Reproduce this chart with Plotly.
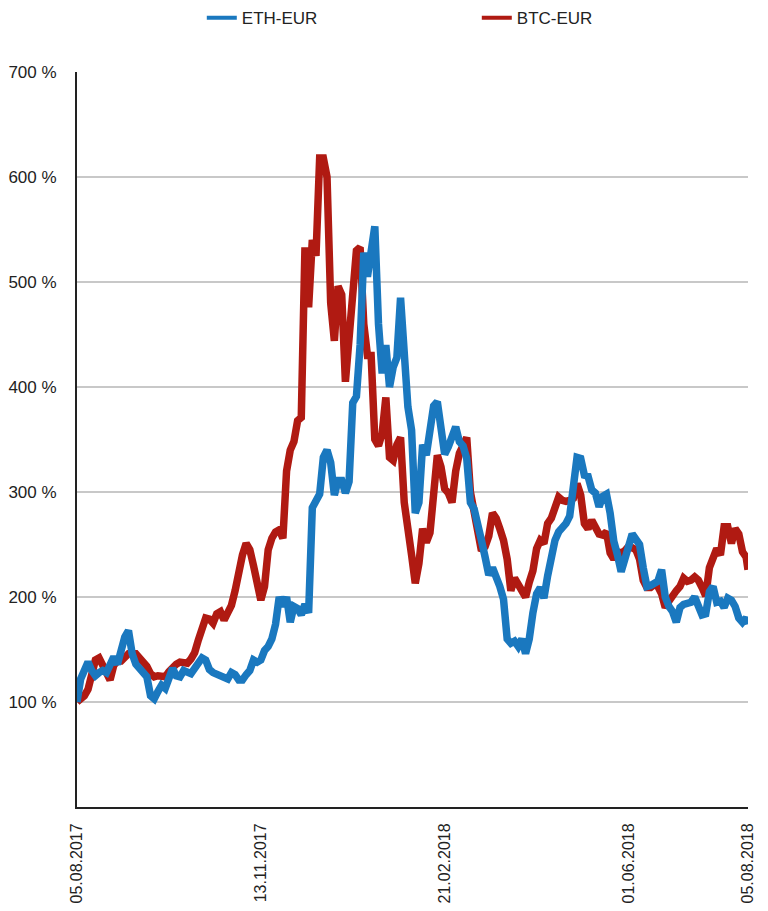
import pandas as pd
import plotly.graph_objects as go

# Daily series sampled every 2 days, 05.08.2017 -> 05.08.2018, indexed to 100 %
dates = list(pd.date_range("2017-08-05", "2018-08-04", freq="2D")) + [pd.Timestamp("2018-08-05")]

btc_eur = [
    100, 102, 106, 112, 126, 140, 142, 134, 127, 121, 135, 139, 139, 144, 146, 146, 146, 142, 138, 134,
    127, 124, 125, 124, 124, 129, 134, 136, 138, 137, 137, 141, 147, 159, 172, 180, 179, 175, 184, 186,
    178, 184, 192, 206, 225, 240, 251, 245, 230, 208, 197, 210, 245, 256, 262, 264, 256, 320, 340, 348,
    368, 371, 533, 476, 540, 525, 618, 618, 600, 480, 444, 496, 488, 405, 445, 472, 530, 533, 460, 430,
    430, 350, 344, 356, 390, 333, 330, 345, 352, 290, 270, 240, 213, 232, 265, 252, 261, 310, 335, 324,
    303, 299, 290, 320, 337, 344, 352, 300, 278, 255, 244, 248, 258, 280, 275, 265, 254, 236, 206, 218,
    212, 203, 200, 214, 225, 246, 254, 251, 270, 275, 285, 295, 292, 291, 292, 294, 308, 297, 270, 265,
    273, 268, 260, 259, 262, 242, 236, 243, 242, 244, 248, 247, 245, 236, 216, 209, 209, 212, 210, 203,
    190, 196, 203, 206, 210, 218, 215, 216, 219, 216, 209, 201, 228, 236, 246, 240, 267, 267, 251, 265,
    260, 243, 238, 226,
]

eth_eur = [
    100, 122, 130, 138, 130, 125, 128, 130, 128, 136, 143, 136, 150, 162, 168, 146, 136, 132, 130, 124,
    106, 103, 110, 116, 113, 122, 132, 125, 124, 130, 128, 127, 132, 136, 142, 140, 131, 128, 126, 124,
    122, 122, 128, 126, 121, 121, 126, 130, 140, 138, 140, 149, 153, 160, 174, 200, 191, 200, 176, 191,
    189, 183, 193, 185, 285, 290, 298, 333, 340, 328, 297, 311, 311, 299, 310, 385, 391, 440, 528, 505,
    530, 553, 460, 413, 440, 400, 419, 428, 485, 438, 381, 359, 280, 290, 345, 335, 365, 382, 386, 355,
    336, 343, 352, 362, 348, 344, 332, 290, 284, 272, 254, 238, 221, 228, 220, 210, 198, 160, 156, 158,
    153, 160, 146, 160, 185, 203, 209, 199, 220, 240, 254, 262, 266, 270, 277, 310, 333, 332, 316, 315,
    302, 299, 286, 296, 298, 280, 253, 240, 224, 236, 252, 260, 255, 250, 228, 210, 211, 213, 215, 226,
    200, 191, 186, 176, 190, 193, 194, 195, 200, 190, 183, 184, 205, 210, 195, 196, 190, 199, 197, 191,
    180, 176, 180, 174,
]

tick_dates = ["2017-08-05", "2017-11-13", "2018-02-21", "2018-06-01", "2018-08-05"]
tick_labels = ["05.08.2017", "13.11.2017", "21.02.2018", "01.06.2018", "05.08.2018"]
y_ticks = [100, 200, 300, 400, 500, 600, 700]

ETH_COLOR = "#1a78bf"
BTC_COLOR = "#b01a12"

fig = go.Figure()
# BTC first so that ETH is drawn on top
fig.add_trace(go.Scatter(x=dates, y=btc_eur, name="BTC-EUR", mode="lines", showlegend=False,
                         line=dict(color=BTC_COLOR, width=7.5)))
fig.add_trace(go.Scatter(x=dates, y=eth_eur, name="ETH-EUR", mode="lines", showlegend=False,
                         line=dict(color=ETH_COLOR, width=7.5)))
# legend-only entries with a thin key line
fig.add_trace(go.Scatter(x=[None], y=[None], name="ETH-EUR", mode="lines",
                         line=dict(color=ETH_COLOR, width=4)))
fig.add_trace(go.Scatter(x=[None], y=[None], name="BTC-EUR", mode="lines",
                         line=dict(color=BTC_COLOR, width=4)))

# page body has an 8px margin, so the figure is a bit smaller than the window
fig.update_layout(
    width=760, height=895,
    margin=dict(l=69, r=20, t=64, b=96),
    plot_bgcolor="white", paper_bgcolor="white",
    font=dict(family="Liberation Sans, Arial, sans-serif", size=17, color="#222"),
    showlegend=True,
    legend=dict(orientation="h",
                xref="container", yref="container",
                x=0.255, xanchor="left", y=0.9885, yanchor="middle",
                entrywidth=230, font=dict(size=17)),
)

fig.update_xaxes(
    type="date",
    range=["2017-08-05", "2018-08-05"],
    tickvals=tick_dates, ticktext=tick_labels, tickangle=-90,
    tickfont=dict(size=16), ticklabeloverflow="allow",
    showgrid=False, zeroline=False, automargin=False,
    showline=True, linecolor="#222", linewidth=2,
    ticks="outside", ticklen=8, tickcolor="rgba(0,0,0,0)",
)
fig.update_yaxes(
    range=[0, 700],
    tickvals=y_ticks, ticktext=[f"{v} %" for v in y_ticks],
    ticklabeloverflow="allow",
    showgrid=True, gridcolor="#c8c8c8", gridwidth=1.5,
    zeroline=False, automargin=False,
    showline=True, linecolor="#222", linewidth=2,
    ticks="outside", ticklen=15, tickcolor="rgba(0,0,0,0)",
)

fig.write_html("out.html")
